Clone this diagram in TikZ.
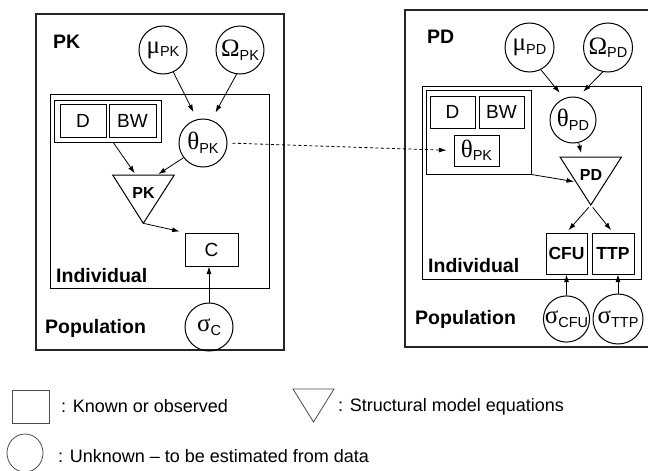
\documentclass[tikz,border=0pt]{standalone}
\usepackage{fontspec}
\setmainfont{Liberation Sans}
\newfontfamily\grkfont{Liberation Serif}
\usetikzlibrary{shapes.geometric,arrows.meta,calc}
\newcommand{\gsub}[2]{{\grkfont\fontsize{25}{25}\selectfont #1}\raisebox{-3.5pt}{\fontsize{14.5}{14.5}\selectfont #2}}
\begin{document}
\begin{tikzpicture}[x=1pt,y=-1pt,
  box/.style={draw, line width=1pt, rectangle, inner sep=0pt},
  circ/.style={draw, line width=1pt, circle, inner sep=0pt, minimum size=48pt},
  frm/.style={draw=black!85, line width=1.3pt, rectangle, inner sep=0pt},
  triline/.style={draw, line width=1pt, line join=miter},
  arr/.style={-{Latex[length=7.5pt,width=5pt]}, line width=0.8pt},
  hd/.style={font=\fontsize{19.5}{20}\selectfont\bfseries, inner sep=0pt, anchor=base west},
  rt/.style={font=\fontsize{19}{19}\selectfont},
  bsm/.style={font=\fontsize{17.5}{18}\selectfont\bfseries},
  trit/.style={font=\fontsize{16}{16}\selectfont\bfseries, inner sep=0pt},
  leg/.style={font=\fontsize{18}{18}\selectfont, inner sep=0pt, anchor=base west}]
\useasboundingbox (0,0) rectangle (648,471);

% ---------------- PK panel ----------------
\node[frm, minimum width=248pt, minimum height=336pt] (popL) at (160,182) {};
\node[box, minimum width=219pt, minimum height=194pt] (indL) at (159.5,191) {};
\node[hd] (pkhead) at (53,48) {PK};
\node[hd] (indLt) at (56,282) {Individual};
\node[hd] (popLt) at (45,333) {Population};

\node[circ] (mupk) at (163,50) {\gsub{μ}{PK}};
\node[circ] (ompk) at (240,50) {\gsub{Ω}{PK}};
\node[circ] (thpk) at (203,143) {\gsub{θ}{PK}};
\node[box, minimum width=107pt, minimum height=42pt] (dbwL) at (107.5,121) {};
\node[box, rt, minimum width=46pt, minimum height=33pt] (dL) at (83,120.5) {D};
\node[box, rt, minimum width=47pt, minimum height=33pt] (bwL) at (132.5,120.5) {BW};
\coordinate (pkTL) at (112.7,175);
\coordinate (pkTR) at (174.3,175);
\coordinate (pkTA) at (143.3,223.3);
\draw[triline] (pkTL) -- (pkTR) -- (pkTA) -- cycle;
\node[trit] (pkT) at (143.5,192.5) {PK};
\node[box, rt, minimum width=53pt, minimum height=33pt] (cL) at (211.5,249.5) {C};
\node[circ] (sigc) at (209,327) {\gsub{σ}{C}};

\draw[arr, shorten >=8pt] (mupk.-65) -- (thpk.104);
\draw[arr, shorten >=8.5pt] (ompk.-98) -- (thpk.70);
\draw[arr, shorten >=2pt] (dbwL.-75) -- ($(pkTL)!0.377!(pkTR)$);
\draw[arr, shorten >=1.5pt] (thpk.-143) -- ($(pkTL)!0.72!(pkTR)$);
\draw[arr, shorten <=1pt, shorten >=5pt] (pkTA) -- (cL.north west);
\draw[arr] (sigc.north) -- (sigc.north |- cL.south);

% ---------------- PD panel ----------------
\node[frm, minimum width=247pt, minimum height=337pt] (popR) at (528.5,178.5) {};
\node[box, minimum width=219pt, minimum height=193pt] (indR) at (531.5,182.5) {};
\node[hd] (pdhead) at (427,43) {PD};
\node[hd] (indRt) at (428,272) {Individual};
\node[hd] (popRt) at (415,324) {Population};

\node[circ, minimum size=49pt] (mupd) at (529.5,47.5) {\gsub{μ}{PD}};
\node[circ, minimum size=49pt] (ompd) at (608,47.5) {\gsub{Ω}{PD}};
\node[circ, minimum size=46pt] (thpd) at (573,120) {\gsub{θ}{PD}};
\node[box, minimum width=105pt, minimum height=84pt] (grp) at (478.5,132) {};
\node[box, rt, minimum width=45pt, minimum height=32pt] (dR) at (452.5,112) {D};
\node[box, rt, minimum width=45pt, minimum height=32pt] (bwR) at (501.5,112) {BW};
\node[box, minimum width=45pt, minimum height=31pt] (thpkR) at (476.5,150.5) {\gsub{θ}{PK}};
\coordinate (pdTL) at (560,157);
\coordinate (pdTR) at (621.5,157);
\coordinate (pdTA) at (590.8,205);
\draw[triline] (pdTL) -- (pdTR) -- (pdTA) -- cycle;
\node[trit] (pdT) at (591,175) {PD};
\node[box, bsm, minimum width=41pt, minimum height=41pt] (cfu) at (566.5,253.5) {CFU};
\node[box, bsm, minimum width=42pt, minimum height=41pt] (ttp) at (613,253.5) {TTP};
\node[circ, minimum size=46pt] (sigcfu) at (566.5,319) {\gsub{σ}{CFU}};
\node[circ, minimum size=50pt] (sigttp) at (618,319) {\gsub{σ}{TTP}};

\draw[arr, shorten >=7pt] (mupd.-63) -- (thpd.112);
\draw[arr, shorten >=7.5pt] (ompd.-102) -- (thpd.78);
\draw[arr, shorten >=4pt] (thpd.-76) -- ($(pdTL)!0.36!(pdTR)$);
\draw[arr, shorten >=2pt] (grp.south east) -- ($(pdTL)!0.52!(pdTA)$);
\draw[arr, shorten <=3pt, shorten >=3pt] (pdTA) -- (cfu.north);
\draw[arr, shorten <=3pt, shorten >=3pt] (pdTA) -- (ttp.north);
\draw[arr] (sigcfu.north) -- (sigcfu.north |- cfu.south);
\draw[arr] (sigttp.north) -- (sigttp.north |- ttp.south);

% dashed link
\draw[arr, dash pattern=on 3pt off 2.5pt, shorten <=5pt, shorten >=7pt] (thpk.east) -- (thpkR.west);

% ---------------- legend ----------------
\node[draw=black!70, line width=0.8pt, rectangle, inner sep=0pt, minimum width=37pt, minimum height=33pt] (legbox) at (30.5,406.5) {};
\node[leg] (legboxt) at (61,412) {: Known or observed};
\coordinate (lgTL) at (293,389);
\coordinate (lgTR) at (334,389);
\coordinate (lgTA) at (313.5,422);
\draw[draw=black!70, line width=0.8pt] (lgTL) -- (lgTR) -- (lgTA) -- cycle;
\node[leg] (legtrit) at (338,411) {: Structural model equations};
\node[draw=black!70, line width=0.8pt, ellipse, inner sep=0pt, minimum width=36pt, minimum height=38pt] (legcirc) at (25,453) {};
\node[leg] (legcirct) at (58,462) {: Unknown – to be estimated from data};
\end{tikzpicture}
\end{document}
